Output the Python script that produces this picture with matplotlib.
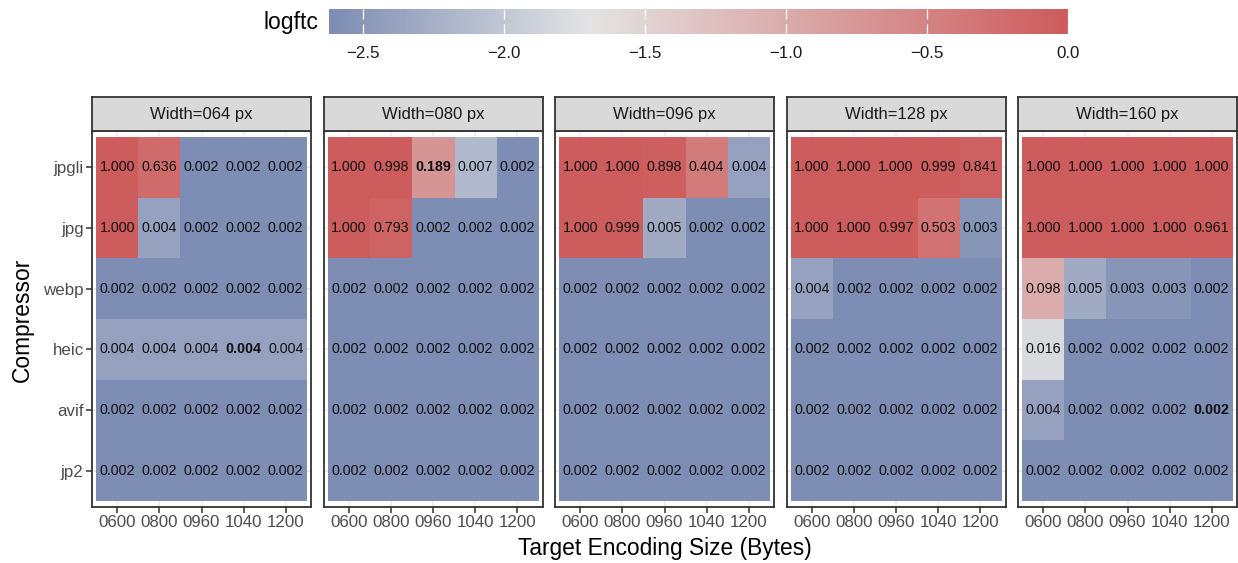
import numpy as np
import matplotlib
matplotlib.use("Agg")
import matplotlib.pyplot as plt
from matplotlib.colors import LinearSegmentedColormap, Normalize

plt.rcParams['font.family'] = ['Liberation Sans', 'DejaVu Sans']

compressors = ['jpgli', 'jpg', 'webp', 'heic', 'avif', 'jp2']
sizes = ['0600', '0800', '0960', '1040', '1200']
widths = ['064', '080', '096', '128', '160']

# ftc per width: rows = compressors, cols = target sizes
ftc = {
    '064': [[1.000, 0.636, 0.002, 0.002, 0.002],
            [1.000, 0.004, 0.002, 0.002, 0.002],
            [0.002, 0.002, 0.002, 0.002, 0.002],
            [0.004, 0.004, 0.004, 0.004, 0.004],
            [0.002, 0.002, 0.002, 0.002, 0.002],
            [0.002, 0.002, 0.002, 0.002, 0.002]],
    '080': [[1.000, 0.998, 0.189, 0.007, 0.002],
            [1.000, 0.793, 0.002, 0.002, 0.002],
            [0.002, 0.002, 0.002, 0.002, 0.002],
            [0.002, 0.002, 0.002, 0.002, 0.002],
            [0.002, 0.002, 0.002, 0.002, 0.002],
            [0.002, 0.002, 0.002, 0.002, 0.002]],
    '096': [[1.000, 1.000, 0.898, 0.404, 0.004],
            [1.000, 0.999, 0.005, 0.002, 0.002],
            [0.002, 0.002, 0.002, 0.002, 0.002],
            [0.002, 0.002, 0.002, 0.002, 0.002],
            [0.002, 0.002, 0.002, 0.002, 0.002],
            [0.002, 0.002, 0.002, 0.002, 0.002]],
    '128': [[1.000, 1.000, 1.000, 0.999, 0.841],
            [1.000, 1.000, 0.997, 0.503, 0.003],
            [0.004, 0.002, 0.002, 0.002, 0.002],
            [0.002, 0.002, 0.002, 0.002, 0.002],
            [0.002, 0.002, 0.002, 0.002, 0.002],
            [0.002, 0.002, 0.002, 0.002, 0.002]],
    '160': [[1.000, 1.000, 1.000, 1.000, 1.000],
            [1.000, 1.000, 1.000, 1.000, 0.961],
            [0.098, 0.005, 0.003, 0.003, 0.002],
            [0.016, 0.002, 0.002, 0.002, 0.002],
            [0.004, 0.002, 0.002, 0.002, 0.002],
            [0.002, 0.002, 0.002, 0.002, 0.002]],
}
# labels drawn in bold (width, compressor, size)
bold_cells = [('064', 'heic', '1040'), ('080', 'jpgli', '0960'), ('160', 'avif', '1200')]

vmin, vmax = -2.62, 0.0
mid = (-1.7 - vmin) / (vmax - vmin)
cmap = LinearSegmentedColormap.from_list(
    'g2', [(0, '#7d8db3'), (mid, '#e4e4e4'), (1, '#cd5c5c')])
norm = Normalize(vmin=vmin, vmax=vmax, clip=True)

W, H = 1238, 563
fig = plt.figure(figsize=(W / 100, H / 100), dpi=100)

def fx(px):
    return px / W

def fy(px):
    return 1 - px / H

panel_top, panel_bot = 131, 507
strip_top = 97
n_rows = len(compressors)

for i, w in enumerate(widths):
    left = 92 + i * 231.5
    pw = 219
    ax = fig.add_axes([fx(left), fy(panel_bot), fx(pw), (panel_bot - panel_top) / H])
    vals = np.array(ftc[w])
    # row 0 (jpgli) at the top
    logv = np.log10(vals[::-1])
    ax.imshow(logv, cmap=cmap, norm=norm, aspect='auto', origin='lower',
              extent=(-0.5, len(sizes) - 0.5, -0.5, n_rows - 0.5), zorder=2,
              interpolation='nearest')
    for r, comp in enumerate(compressors):
        for c, s in enumerate(sizes):
            yy = n_rows - 1 - r
            bold = (w, comp, s) in bold_cells
            ax.text(c, yy, f"{vals[r][c]:.3f}", ha='center', va='center',
                    fontsize=10.3, color='#111111', zorder=3,
                    fontweight='bold' if bold else 'normal')
    ax.set_xlim(-0.6, len(sizes) - 0.4)
    ax.set_ylim(-0.6, n_rows - 0.4)
    ax.set_xticks(range(len(sizes)))
    ax.set_xticklabels(sizes)
    ax.set_yticks(range(n_rows))
    ax.set_yticklabels(compressors[::-1] if i == 0 else [])
    ax.tick_params(axis='both', labelsize=12.2, labelcolor='#4d4d4d', color='#333333',
                   length=4, width=1.1, pad=2)
    if i > 0:
        ax.tick_params(axis='y', length=0)
    ax.grid(True, color='#ebebeb', linewidth=1.1, zorder=0)
    ax.set_axisbelow(True)
    for sp in ax.spines.values():
        sp.set_color('#333333')
        sp.set_linewidth(1.3)

    sax = fig.add_axes([fx(left), fy(panel_top), fx(pw), (panel_top - strip_top) / H])
    sax.set_facecolor('#d9d9d9')
    sax.set_xticks([])
    sax.set_yticks([])
    for sp in sax.spines.values():
        sp.set_color('#333333')
        sp.set_linewidth(1.3)
    sax.text(0.5, 0.5, f"Width={w} px", ha='center', va='center', fontsize=12,
             color='#1a1a1a', transform=sax.transAxes)

fig.text(fx(665), fy(548), 'Target Encoding Size (Bytes)', ha='center', va='center',
         fontsize=16.4)
fig.text(fx(22), fy(320), 'Compressor', ha='center', va='center', rotation=90,
         fontsize=16.4)

# colorbar
cax = fig.add_axes([fx(329), fy(34), fx(739), 25 / H])
grad = np.linspace(vmin, vmax, 512).reshape(1, -1)
cax.imshow(grad, cmap=cmap, norm=norm, aspect='auto', extent=(vmin, vmax, 0, 1))
cax.set_xlim(vmin, vmax)
cax.set_ylim(0, 1)
cbar_ticks = [-2.5, -2.0, -1.5, -1.0, -0.5, 0.0]
cax.set_xticks(cbar_ticks)
cax.set_xticklabels(['\u22122.5', '\u22122.0', '\u22121.5', '\u22121.0', '\u22120.5', '0.0'])
cax.set_yticks([])
cax.tick_params(axis='x', direction='in', top=True, bottom=True, color='white',
                length=7, width=0.9, labelsize=12.2, labelcolor='#1a1a1a', pad=9)
for sp in cax.spines.values():
    sp.set_visible(False)
fig.text(fx(318), fy(22), 'logftc', ha='right', va='center', fontsize=16.5)

fig.savefig('out.png', dpi=100)
